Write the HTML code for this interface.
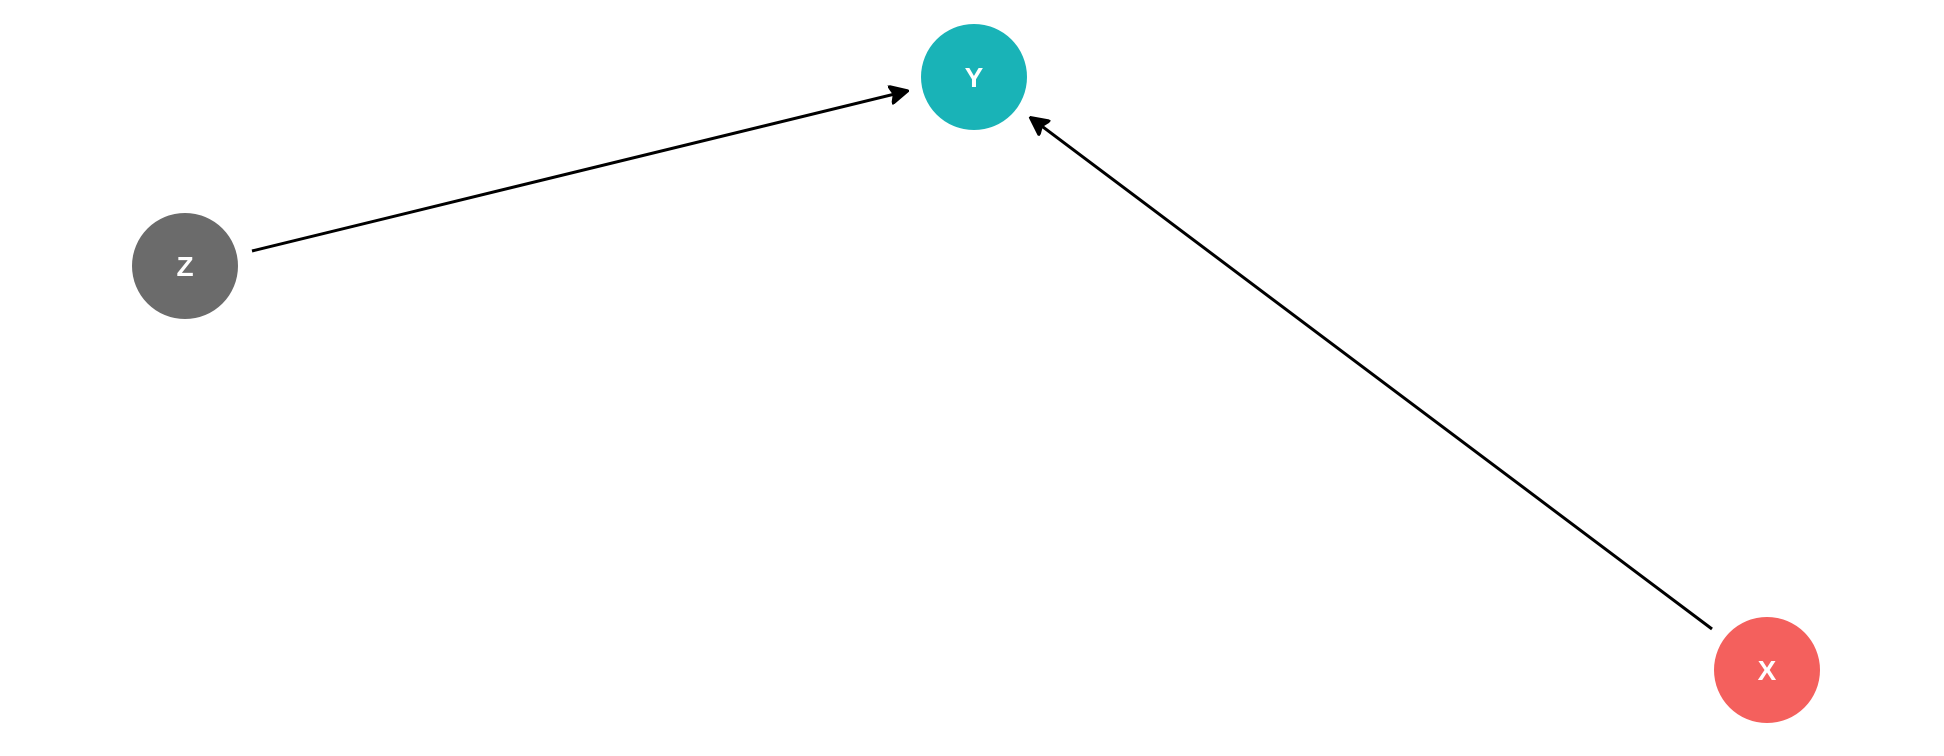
<!DOCTYPE html>
<html><head><style>
html,body{margin:0;padding:0;background:#fff;}
svg{display:block;}
text{font-family:"Liberation Sans",sans-serif;font-weight:bold;font-size:28px;fill:#fff;}
</style></head><body>
<svg width="1944" height="756" viewBox="0 0 1944 756">
<defs>
<marker id="a" viewBox="0 0 10 10" refX="9" refY="5" markerWidth="6.5" markerHeight="6.5" orient="auto" markerUnits="strokeWidth">
<path d="M0,0 L10,5 L0,10 L2,5 z" fill="#000" stroke="#000" stroke-linejoin="round"/>
</marker>
</defs>
<line x1="252" y1="251" x2="907" y2="91" stroke="#000" stroke-width="3" marker-end="url(#a)"/>
<line x1="1712" y1="629" x2="1031" y2="118" stroke="#000" stroke-width="3" marker-end="url(#a)"/>
<circle cx="974" cy="77" r="53" fill="#19b3b7"/>
<circle cx="185" cy="266" r="53" fill="#6b6b6b"/>
<circle cx="1767" cy="670" r="53" fill="#f4605d"/>
<text x="974" y="87" text-anchor="middle">Y</text>
<text x="185" y="276" text-anchor="middle">Z</text>
<text x="1767" y="680" text-anchor="middle">X</text>
</svg>
</body></html>
